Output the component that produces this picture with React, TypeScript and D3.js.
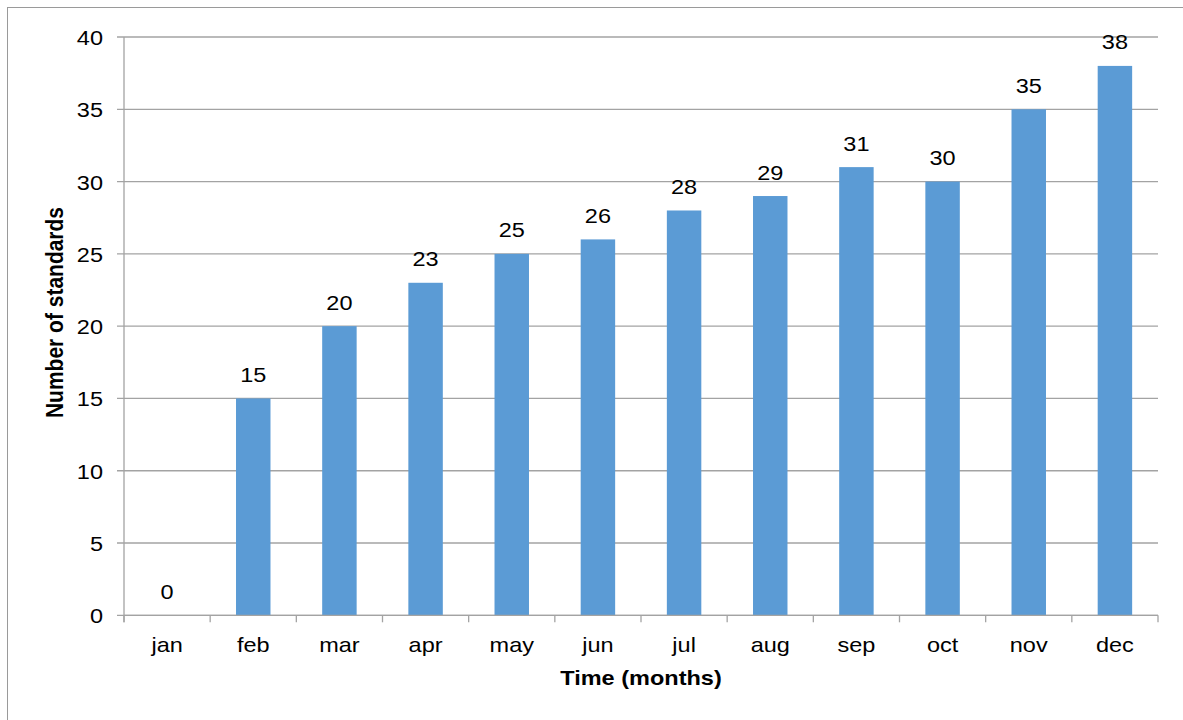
import React from "react";
import * as d3 from "d3";

const months = ["jan", "feb", "mar", "apr", "may", "jun", "jul", "aug", "sep", "oct", "nov", "dec"];
const standards = [0, 15, 20, 23, 25, 26, 28, 29, 31, 30, 35, 38];
const yTicks = [0, 5, 10, 15, 20, 25, 30, 35, 40];

const W = 1183;
const H = 720;
const plot = { left: 124, right: 1158, top: 37, bottom: 615.3 };
const FONT = "'Liberation Sans', Arial, Helvetica, sans-serif";
const FS = 21;
const SX = 1.12; // horizontal text widening
const GRID = "#a3a3a3";
const BAR = "#5b9bd5";

type TProps = {
  x: number;
  y: number;
  anchor?: "start" | "middle" | "end";
  bold?: boolean;
  children: React.ReactNode;
};

function WideText({ x, y, anchor = "middle", bold = false, children }: TProps) {
  return (
    <text
      transform={`translate(${x},${y}) scale(${SX},1)`}
      textAnchor={anchor}
      fontFamily={FONT}
      fontSize={FS}
      fontWeight={bold ? "bold" : "normal"}
      fill="#000"
    >
      {children}
    </text>
  );
}

export default function App() {
  const x = d3.scaleBand<string>().domain(months).range([plot.left, plot.right]).padding(0);
  const y = d3.scaleLinear().domain([0, 40]).range([plot.bottom, plot.top]);
  const bw = x.bandwidth();
  const barW = bw * 0.4;
  const boundaries = months.map((m) => x(m) as number).concat([plot.right]);

  return (
    <svg
      width={W}
      height={H}
      style={{ position: "absolute", left: 0, top: 0, background: "#fff" }}
    >
      {/* outer chart frame */}
      <rect x={7.5} y={7.5} width={1300} height={900} fill="#fff" stroke="#9a9a9a" strokeWidth={1} />

      {/* horizontal gridlines and y ticks */}
      {yTicks.map((t) => (
        <g key={t}>
          <line x1={plot.left - 7} x2={plot.right} y1={y(t)} y2={y(t)} stroke={GRID} strokeWidth={1.3} />
          <WideText x={103} y={y(t) + 8} anchor="end">
            {t}
          </WideText>
        </g>
      ))}

      {/* y axis line */}
      <line x1={plot.left} x2={plot.left} y1={plot.top} y2={plot.bottom + 7} stroke={GRID} strokeWidth={1.3} />

      {/* category boundary ticks */}
      {boundaries.map((bx, i) => (
        <line key={i} x1={bx} x2={bx} y1={plot.bottom} y2={plot.bottom + 7} stroke={GRID} strokeWidth={1.3} />
      ))}

      {/* bars */}
      {months.map((m, i) => (
        <rect
          key={m}
          x={(x(m) as number) + (bw - barW) / 2}
          y={y(standards[i])}
          width={barW}
          height={y(0) - y(standards[i])}
          fill={BAR}
        />
      ))}

      {/* x axis line on top of bars */}
      <line x1={plot.left} x2={plot.right} y1={plot.bottom} y2={plot.bottom} stroke={GRID} strokeWidth={1.3} />

      {/* value labels */}
      {months.map((m, i) => (
        <WideText key={m} x={(x(m) as number) + bw / 2} y={y(standards[i]) - 16.5}>
          {standards[i]}
        </WideText>
      ))}

      {/* category labels */}
      {months.map((m) => (
        <WideText key={m} x={(x(m) as number) + bw / 2} y={652}>
          {m}
        </WideText>
      ))}

      {/* axis titles */}
      <WideText x={(plot.left + plot.right) / 2} y={685} bold>
        Time (months)
      </WideText>
      <text
        transform={`translate(63,312.5) rotate(-90) scale(1,${SX})`}
        textAnchor="middle"
        fontFamily={FONT}
        fontSize={FS}
        fontWeight="bold"
        fill="#000"
      >
        Number of standards
      </text>
    </svg>
  );
}
